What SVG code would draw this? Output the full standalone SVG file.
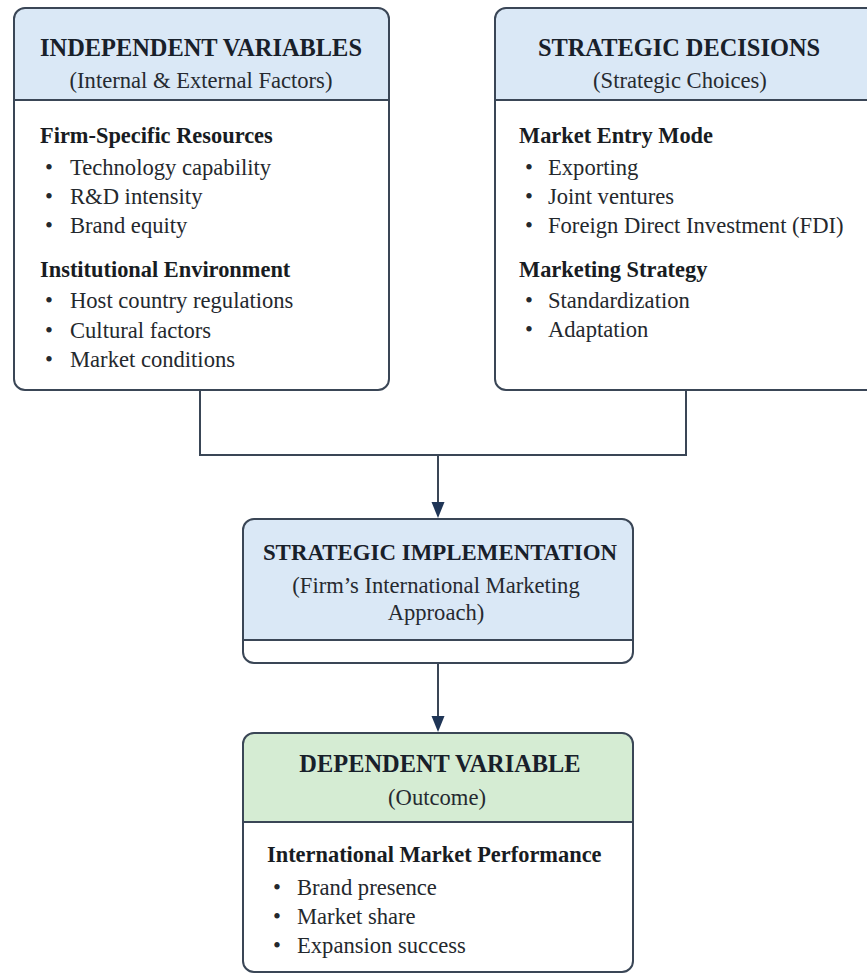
<svg xmlns="http://www.w3.org/2000/svg" width="867" height="975" viewBox="0 0 867 975">
<style>
.box{fill:#ffffff;stroke:none}
.outline{fill:none;stroke:#3a4656;stroke-width:2}
.hblue{fill:#dae8f6}
.hgreen{fill:#d5ecd3}
.div{stroke:#3a4656;stroke-width:2}
text{font-family:'Liberation Serif','DejaVu Serif',serif}
.title{font-weight:bold;font-size:24.4px;fill:#18202a;text-anchor:middle}
.sub{font-size:22.6px;fill:#262a30;text-anchor:middle}
.head{font-weight:bold;font-size:22.4px;fill:#181c22}
.item{font-size:22.6px;fill:#24282d}
.conn{fill:none;stroke:#3a4656;stroke-width:2}
.arrow{fill:#1f3556}
</style>

<g id="independent-variables">
  <rect class="box" x="14" y="8" width="375" height="382" rx="11"/>
  <path class="hblue" d="M14,100 V19 A11,11 0 0 1 25,8 H378 A11,11 0 0 1 389,19 V100 Z"/>
  <line class="div" x1="14" y1="100" x2="389" y2="100"/>
  <rect class="outline" x="14" y="8" width="375" height="382" rx="11"/>
  <text class="title" x="201" y="56">INDEPENDENT VARIABLES</text>
  <text class="sub" x="201" y="88">(Internal &amp; External Factors)</text>
  <text class="head" x="40" y="143">Firm-Specific Resources</text>
  <text class="item" x="45" y="175">•</text><text class="item" x="70" y="175">Technology capability</text>
  <text class="item" x="45" y="204">•</text><text class="item" x="70" y="204">R&amp;D intensity</text>
  <text class="item" x="45" y="233">•</text><text class="item" x="70" y="233">Brand equity</text>
  <text class="head" x="40" y="277">Institutional Environment</text>
  <text class="item" x="45" y="308">•</text><text class="item" x="70" y="308">Host country regulations</text>
  <text class="item" x="45" y="338">•</text><text class="item" x="70" y="338">Cultural factors</text>
  <text class="item" x="45" y="367">•</text><text class="item" x="70" y="367">Market conditions</text>
</g>

<g id="strategic-decisions">
  <rect class="box" x="495" y="8" width="382" height="382" rx="11"/>
  <path class="hblue" d="M495,100 V19 A11,11 0 0 1 506,8 H866 A11,11 0 0 1 877,19 V100 Z"/>
  <line class="div" x1="495" y1="100" x2="877" y2="100"/>
  <rect class="outline" x="495" y="8" width="382" height="382" rx="11"/>
  <text class="title" x="679" y="56">STRATEGIC DECISIONS</text>
  <text class="sub" x="680" y="88">(Strategic Choices)</text>
  <text class="head" x="519" y="143">Market Entry Mode</text>
  <text class="item" x="525" y="175">•</text><text class="item" x="548" y="175">Exporting</text>
  <text class="item" x="525" y="204">•</text><text class="item" x="548" y="204">Joint ventures</text>
  <text class="item" x="525" y="233">•</text><text class="item" x="548" y="233">Foreign Direct Investment (FDI)</text>
  <text class="head" x="519" y="277">Marketing Strategy</text>
  <text class="item" x="525" y="308">•</text><text class="item" x="548" y="308">Standardization</text>
  <text class="item" x="525" y="337">•</text><text class="item" x="548" y="337">Adaptation</text>
</g>

<g id="strategic-implementation">
  <rect class="box" x="243" y="519" width="390" height="144" rx="11"/>
  <path class="hblue" d="M243,640 V530 A11,11 0 0 1 254,519 H622 A11,11 0 0 1 633,530 V640 Z"/>
  <line class="div" x1="243" y1="640" x2="633" y2="640"/>
  <rect class="outline" x="243" y="519" width="390" height="144" rx="11"/>
  <text class="title" x="440" y="560" style="font-size:22.9px">STRATEGIC IMPLEMENTATION</text>
  <text class="sub" x="436" y="593">(Firm’s International Marketing</text>
  <text class="sub" x="436" y="620">Approach)</text>
</g>

<g id="dependent-variable">
  <rect class="box" x="243" y="733" width="390" height="239" rx="11"/>
  <path class="hgreen" d="M243,822 V744 A11,11 0 0 1 254,733 H622 A11,11 0 0 1 633,744 V822 Z"/>
  <line class="div" x1="243" y1="822" x2="633" y2="822"/>
  <rect class="outline" x="243" y="733" width="390" height="239" rx="11"/>
  <text class="title" x="440" y="772">DEPENDENT VARIABLE</text>
  <text class="sub" x="437" y="805">(Outcome)</text>
  <text class="head" x="267" y="862">International Market Performance</text>
  <text class="item" x="273" y="895">•</text><text class="item" x="297" y="895">Brand presence</text>
  <text class="item" x="273" y="924">•</text><text class="item" x="297" y="924">Market share</text>
  <text class="item" x="273" y="953">•</text><text class="item" x="297" y="953">Expansion success</text>
</g>

<g id="connectors">
  <path class="conn" d="M200,390 V455 H686 V390"/>
  <path class="conn" d="M438,455 V503"/>
  <polygon class="arrow" points="431.5,502 444.5,502 438,518"/>
  <path class="conn" d="M438,663 V718"/>
  <polygon class="arrow" points="431.5,716 444.5,716 438,732"/>
</g>
</svg>
